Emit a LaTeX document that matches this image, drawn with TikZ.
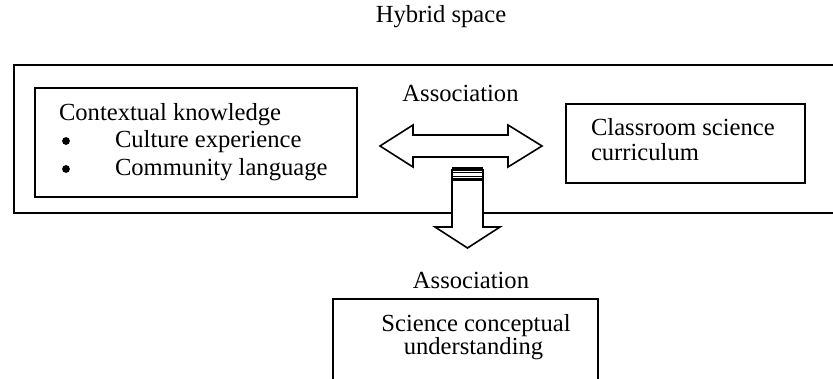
\documentclass[tikz,border=0pt]{standalone}
\usepackage{fontspec}
\setmainfont{Liberation Serif}
\begin{document}
\begin{tikzpicture}[x=0.5pt,y=-0.5pt,
  every node/.style={inner sep=0pt,outer sep=0pt},
  lbl/.style={font=\fontsize{12.3}{14}\selectfont},
  boxline/.style={draw=black,line width=0.9pt},
  frame/.style={draw=black,line width=1pt},
  blockarrow/.style={draw=black,line width=0.8pt,fill=white,line join=miter}]
\useasboundingbox (0,0) rectangle (833,379);
% outer hybrid space frame (open on the right)
\coordinate (ftr) at (836,65);
\coordinate (ftl) at (14,65);
\coordinate (fbl) at (14,213);
\coordinate (fbr) at (836,213);
\draw[frame] (ftr) -- (ftl) -- (fbl) -- (fbr);
\node[lbl,anchor=base] (hybrid) at (441,23) {Hybrid space};
% left box
\node[boxline,minimum width=161pt,minimum height=54.5pt] (ctx) at (196,142.5) {};
\node[lbl,anchor=base west] (ctxt) at (59,120.5) {Contextual knowledge};
\node[circle,fill=black,minimum size=3.9pt] (b1) at (66,141) {};
\node[circle,fill=black,minimum size=3.9pt] (b2) at (66,169) {};
\node[lbl,anchor=base west] (i1) at (115,147.7) {Culture experience};
\node[lbl,anchor=base west] (i2) at (115,176) {Community language};
% right box
\node[boxline,minimum width=119.5pt,minimum height=39.5pt] (cur) at (685.5,143.5) {};
\node[lbl,anchor=base west] (c1) at (591,136) {Classroom science};
\node[lbl,anchor=base west] (c2) at (591,160.5) {curriculum};
% double arrow
\node[lbl,anchor=base] (assoc1) at (460.5,102) {Association};
\draw[blockarrow] (380,146) -- (413,125) -- (413,135) -- (508,135) -- (508,125) -- (542,146)
  -- (508,167) -- (508,157) -- (413,157) -- (413,167) -- cycle;
% down arrow
\draw[blockarrow] (452,170) -- (452,227) -- (435,227) -- (467.5,248) -- (500,227) -- (483,227) -- (483,170) -- cycle;
\fill[black] (451.6,166.6) rectangle (483.4,170.6);
\draw[black,line width=0.5pt] (452,173) rectangle (483,177);
\fill[black] (451.6,178.3) rectangle (483.4,181);
% bottom box (cut off at the bottom)
\node[lbl,anchor=base] (assoc2) at (471,288) {Association};
\coordinate (sbl) at (333,382);
\coordinate (stl) at (333,299);
\coordinate (str) at (598,299);
\coordinate (sbr) at (598,382);
\draw[boxline] (sbl) -- (stl) -- (str) -- (sbr);
\node[lbl,anchor=base] (s1) at (476,331) {Science conceptual};
\node[lbl,anchor=base] (s2) at (473.5,354.5) {understanding};
\end{tikzpicture}
\end{document}
